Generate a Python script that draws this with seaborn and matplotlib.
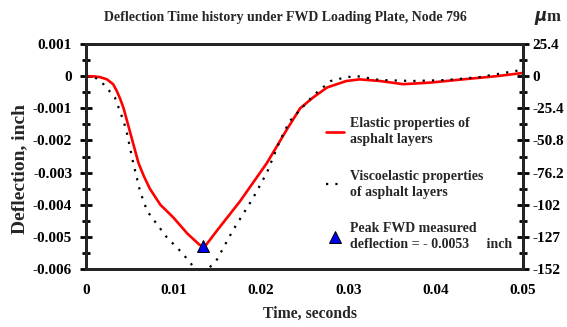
import numpy as np
import pandas as pd
import matplotlib.pyplot as plt
from matplotlib.lines import Line2D
from matplotlib.ticker import MultipleLocator
import seaborn as sns

# elastic (red) curve
elastic_t = [0.0, 0.0010, 0.0016, 0.0024, 0.0031, 0.0035, 0.0039, 0.0043, 0.0047,
             0.0050, 0.0055, 0.0060, 0.0066, 0.0073, 0.0085, 0.0100, 0.0116,
             0.0130, 0.0136, 0.0150, 0.0176, 0.0207, 0.0218, 0.0230, 0.0245,
             0.0260, 0.0276, 0.0298, 0.0313, 0.0336, 0.0363, 0.0394, 0.0431,
             0.0470, 0.0500]
elastic_d = [0.0, -0.00001, -0.00003, -0.0001, -0.00025, -0.00045, -0.0007, -0.0010,
             -0.0014, -0.0017, -0.0022, -0.0027, -0.0031, -0.0035, -0.0040,
             -0.0044, -0.0049, -0.00525, -0.0053, -0.0048, -0.0039, -0.0027,
             -0.0022, -0.00165, -0.0010, -0.00066, -0.00035, -0.00015, -0.0001,
             -0.00015, -0.00025, -0.0002, -0.0001, 0.0, 0.0001]

# viscoelastic (dotted) curve
visco_t = [0.0, 0.0010, 0.0020, 0.0033, 0.0043, 0.0047, 0.0054, 0.0062, 0.0070,
           0.0092, 0.0110, 0.0125, 0.0133, 0.0150, 0.0168, 0.0191, 0.0207,
           0.0222, 0.0233, 0.0240, 0.0260, 0.0280, 0.0298, 0.0310, 0.0336,
           0.0374, 0.0413, 0.0450, 0.0489, 0.0500]
visco_d = [0.0, -0.00003, -0.00025, -0.00066, -0.0014, -0.0018, -0.0027, -0.0036,
           -0.0042, -0.0050, -0.0055, -0.0060, -0.0062, -0.0057, -0.0048,
           -0.0038, -0.0030, -0.0020, -0.0014, -0.0012, -0.0006, -0.00015,
           -0.00003, 0.0, -0.00012, -0.00015, -0.00012, -0.00003, 0.00015, 0.0002]

peak_t = [0.0134]
peak_d = [-0.0053]

left_ticks = [0.001, 0, -0.001, -0.002, -0.003, -0.004, -0.005, -0.006]
left_labels = ["0.001", "0", "-0.001", "-0.002", "-0.003", "-0.004", "-0.005", "-0.006"]
right_labels = ["25.4", "0", "-25.4", "-50.8", "-76.2", "-102", "-127", "-152"]
x_ticks = [0, 0.01, 0.02, 0.03, 0.04, 0.05]
x_labels = ["0", "0.01", "0.02", "0.03", "0.04", "0.05"]

sns.set_style("white")
plt.rcParams['font.family'] = ['Liberation Serif', 'DejaVu Serif']
plt.rcParams['font.weight'] = 'bold'

fig = plt.figure(figsize=(5.67, 3.27), dpi=100)
ax = fig.add_axes([0.1517, 0.1774, 0.7707, 0.688])

el = pd.DataFrame({'t': elastic_t, 'd': elastic_d})
vi = pd.DataFrame({'t': visco_t, 'd': visco_d})
sns.lineplot(data=el, x='t', y='d', color='red', linewidth=1.9, ax=ax)
sns.lineplot(data=vi, x='t', y='d', color='black', linewidth=1.6,
             linestyle=(0, (1, 3.2)), ax=ax)
ax.plot(peak_t, peak_d, marker='^', color='#0000ee', markeredgecolor='black',
        markeredgewidth=0.7, markersize=9, linestyle='none', zorder=5)

ax.set_xlim(0, 0.05)
ax.set_ylim(-0.006, 0.001)
ax.set_xticks(x_ticks)
ax.set_xticklabels(x_labels, fontsize=11, fontweight='bold')
ax.set_yticks(left_ticks)
ax.set_yticklabels(left_labels, fontsize=11, fontweight='bold')
ax.xaxis.set_minor_locator(MultipleLocator(0.005))
ax.yaxis.set_minor_locator(MultipleLocator(0.0005))
ax.tick_params(which='both', direction='inout', width=2, colors='black')
ax.tick_params(which='major', length=8, pad=6)
ax.tick_params(which='minor', length=6)
ax.tick_params(axis='x', pad=7)
for s in ax.spines.values():
    s.set_linewidth(2)
    s.set_color('black')
ax.set_xlabel("Time, seconds", fontsize=11.3, fontweight='bold')
ax.set_ylabel("Deflection, inch", fontsize=14, fontweight='bold')
ax.xaxis.label.set_va('center')
ax.yaxis.label.set_va('center')
ax.xaxis.set_label_coords(0.513, -0.198)
ax.yaxis.set_label_coords(-0.151, 0.444)

ax2 = ax.twinx()
ax2.set_ylim(-0.006, 0.001)
ax2.set_yticks(left_ticks)
ax2.set_yticklabels(right_labels, fontsize=11, fontweight='bold')
ax2.yaxis.set_minor_locator(MultipleLocator(0.0005))
ax2.tick_params(which='both', direction='inout', width=2, colors='black')
ax2.tick_params(which='major', length=8, pad=3)
ax2.tick_params(which='minor', length=6)
for s in ax2.spines.values():
    s.set_linewidth(2)
fig.text(0.966, 0.946, r"$\mu$m", fontsize=12, ha='center', va='center')

fig.text(0.5035, 0.948, "Deflection Time history under FWD Loading Plate, Node 796",
         fontsize=10, fontweight='bold', ha='center', va='center')

handles = [Line2D([], [], color='red', linewidth=1.9),
           Line2D([], [], color='black', linewidth=1.6, linestyle=(0, (1, 3.2))),
           Line2D([], [], marker='^', color='#0000ee', markeredgecolor='black',
                  markeredgewidth=0.7, markersize=8, linestyle='none')]
labels = ["Elastic properties of\nasphalt layers",
          "Viscoelastic properties\nof asphalt layers",
          "Peak FWD measured\ndeflection = - 0.0053     inch"]
leg = ax.legend(handles, labels, loc='upper left', bbox_to_anchor=(0.549, 0.675),
                frameon=False, fontsize=10, handlelength=1.3, handletextpad=0.4,
                labelspacing=1.7, borderpad=0, borderaxespad=0)
for t in leg.get_texts():
    t.set_fontweight('bold')
    t.set_linespacing(1.3)

fig.savefig("out.png", dpi=100)
